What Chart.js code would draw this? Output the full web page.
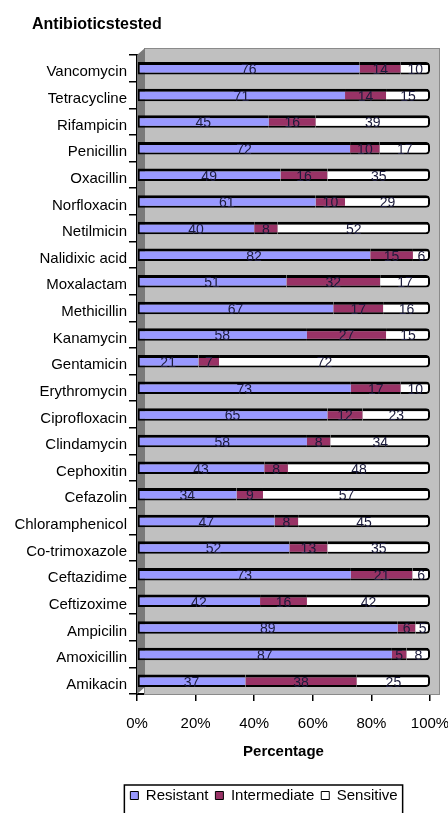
<!DOCTYPE html>
<html><head><meta charset="utf-8">
<script src="https://cdn.jsdelivr.net/npm/chart.js@4.4.1/dist/chart.umd.min.js"></script>
<style>html,body{margin:0;padding:0;background:#fff;overflow:hidden}canvas{display:block}</style>
</head><body>
<canvas id="c" width="448" height="813"></canvas>
<script>
const categories = ['Vancomycin','Tetracycline','Rifampicin','Penicillin','Oxacillin','Norfloxacin','Netilmicin','Nalidixic acid','Moxalactam','Methicillin','Kanamycin','Gentamicin','Erythromycin','Ciprofloxacin','Clindamycin','Cephoxitin','Cefazolin','Chloramphenicol','Co-trimoxazole','Ceftazidime','Ceftizoxime','Ampicilin','Amoxicillin','Amikacin'];
const resistant    = [76,71,45,72,49,61,40,82,51,67,58,21,73,65,58,43,34,47,52,73,42,89,87,37];
const intermediate = [14,14,16,10,16,10, 8,15,32,17,27, 7,17,12, 8, 8, 9, 8,13,21,16, 6, 5,38];
const sensitive    = [10,15,39,17,35,29,52, 6,17,16,15,72,10,23,34,48,57,45,35, 6,42, 5, 8,25];
const xTicks = [0,20,40,60,80,100];
const seriesNames = ['Resistant','Intermediate','Sensitive'];
const seriesColors = ['#9999ff','#993366','#ffffff'];
const titleText = 'Antibioticstested';
const xTitle = 'Percentage';

const FONT = "'Liberation Sans Narrow','Arial Narrow','Liberation Sans',Arial,sans-serif";
const raw = [resistant, intermediate, sensitive];
const totals = categories.map((_, i) => resistant[i] + intermediate[i] + sensitive[i]);
const pct = raw.map(arr => arr.map((v, i) => v / totals[i] * 100));

const borders = [
  {top:3,bottom:2,left:2,right:0},
  {top:3,bottom:2,left:0,right:0},
  {top:3,bottom:2,left:0,right:2}
];
const radii = [0, 0, {topLeft:0, bottomLeft:0, topRight:4, bottomRight:4}];

const wallPlugin = {
  id: 'wall',
  beforeDatasetsDraw(chart) {
    const {ctx, chartArea: a} = chart;
    ctx.save();
    ctx.fillStyle = '#c0c0c0';
    ctx.fillRect(a.left + 7, a.top - 7, a.right + 10 - (a.left + 7), a.bottom - (a.top - 7));
    ctx.strokeStyle = '#8a8a8a';
    ctx.lineWidth = 1;
    ctx.strokeRect(a.left + 7.5, a.top - 6.5, a.right + 10 - (a.left + 8), a.bottom - (a.top - 7));
    ctx.fillStyle = '#7a7a7a';
    ctx.beginPath();
    ctx.moveTo(a.left, a.top);
    ctx.lineTo(a.left + 8, a.top - 7);
    ctx.lineTo(a.left + 8, a.bottom - 7);
    ctx.lineTo(a.left, a.bottom);
    ctx.closePath();
    ctx.fill();
    ctx.restore();
  },
  afterDatasetsDraw(chart) {
    const {ctx} = chart;
    ctx.save();
    ctx.font = '14px ' + FONT;
    ctx.fillStyle = '#1c1c3c';
    ctx.textAlign = 'center';
    ctx.textBaseline = 'middle';
    raw.forEach((arr, d) => {
      const meta = chart.getDatasetMeta(d);
      meta.data.forEach((el, i) => {
        const x = (el.x + el.base) / 2;
        ctx.fillText(String(arr[i]), x, el.y + 2);
      });
    });
    ctx.restore();
  },
  afterLayout(chart) {
    const lg = chart.legend;
    if (lg) { lg.left += 44; lg.right += 44; }
  },
  afterDraw(chart) {
    const {ctx} = chart;
    ctx.save();
    ctx.font = 'bold 16px ' + FONT;
    ctx.fillStyle = '#000';
    ctx.textAlign = 'left';
    ctx.textBaseline = 'middle';
    ctx.fillText(titleText, 32, 25);
    const lg = chart.legend;
    if (lg && lg.lineWidths) {
      const pad = lg.options.labels.padding;
      const lw = lg.lineWidths[0];
      const sx = (lg.left + pad + lg.right - lw) / 2;
      ctx.strokeStyle = '#000';
      ctx.lineWidth = 1.5;
      ctx.strokeRect(sx - 6, lg.top + 4, lw + 4, lg.bottom - lg.top + 10);
    }
    ctx.restore();
  }
};

new Chart(document.getElementById('c'), {
  type: 'bar',
  data: {
    labels: categories,
    datasets: seriesNames.map((n, d) => ({
      label: n,
      data: pct[d],
      backgroundColor: seriesColors[d],
      borderColor: '#000',
      borderWidth: borders[d],
      borderRadius: radii[d],
      borderSkipped: false,
      barPercentage: 0.47,
      categoryPercentage: 1
    }))
  },
  options: {
    indexAxis: 'y',
    responsive: false,
    animation: false,
    devicePixelRatio: 1,
    layout: {padding: {left: 10, right: 18, top: 55, bottom: 0}},
    scales: {
      x: {
        stacked: true, min: 0, max: 100,
        afterBuildTicks(s) { s.ticks = xTicks.map(v => ({value: v})); },
        afterFit(s) { s.paddingRight = 0; s.paddingLeft = 0; s.height = 87; },
        ticks: {callback: v => v + '%', color: '#000', font: {family: FONT, size: 15}, padding: 14, maxRotation: 0},
        grid: {drawOnChartArea: false, color: '#000', tickLength: 7, lineWidth: 1.5},
        border: {color: '#000', width: 2},
        title: {display: true, text: xTitle, color: '#000', font: {family: FONT, size: 15, weight: 'bold'}, padding: {top: 0, bottom: 20}}
      },
      y: {
        stacked: true,
        afterFit(s) { s.width = 127; },
        ticks: {color: '#000', font: {family: FONT, size: 15}, padding: 2, autoSkip: false, labelOffset: 4},
        grid: {drawOnChartArea: false, color: '#000', tickLength: 8, lineWidth: 1.5, offset: true},
        border: {color: '#000', width: 2}
      }
    },
    plugins: {
      legend: {
        position: 'bottom',
        labels: {
          color: '#000', font: {family: FONT, size: 15}, boxWidth: 8, boxHeight: 8, padding: 7,
          generateLabels(chart) {
            return Chart.defaults.plugins.legend.labels.generateLabels(chart).map(l => Object.assign(l, {lineWidth: 1, strokeStyle: '#000'}));
          }
        }
      },
      tooltip: {enabled: false},
      title: {display: false}
    }
  },
  plugins: [wallPlugin]
});
</script>
</body></html>
